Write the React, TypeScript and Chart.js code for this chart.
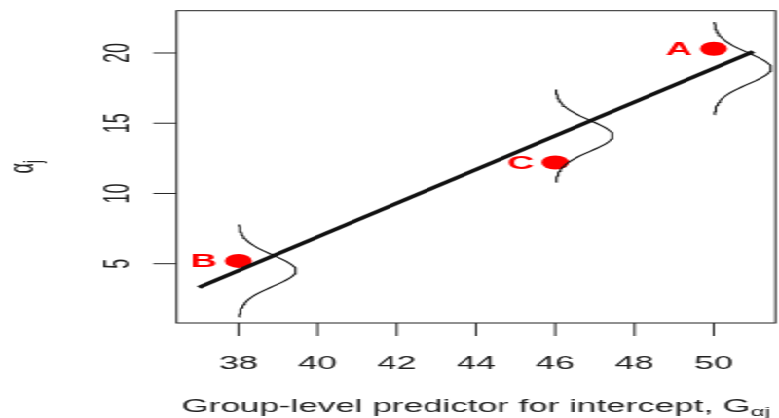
import React, { useEffect, useRef } from 'react';
import { Chart, registerables } from 'chart.js';
Chart.register(...registerables);

// ---- data ----
const xTicks = [38, 40, 42, 44, 46, 48, 50];
const yTicks = [5, 10, 15, 20];
const pointLabels = ['A', 'B', 'C'];
const pointX = [50, 38, 46];
const pointY = [20.3, 5.2, 12.2];
const lineX = [37, 51];
const lineY = [3.3, 20.1];
const densityX = [38, 46, 50];
const densityMean = [4.5, 14.1, 18.9];
const densitySd = [1.1, 1.1, 1.1];
const densityPeak = [1.45, 1.45, 1.45];
const xRange = [36.44, 51.56];
const yRange = [0.78, 23.01];
const xTitle = 'Group-level predictor for intercept, G';
const xTitleSub = '\u03B1j';
const yTitle = '\u03B1';
const yTitleSub = 'j';

const W = 400;
const H = 418;
const STRETCH = 779 / W;
const FONT = '"Liberation Sans", Arial, Helvetica, sans-serif';
const INK = '#222';

function densityCurve(i: number) {
  const pts: { x: number; y: number }[] = [];
  for (let k = 0; k <= 60; k++) {
    const z = -3 + k * 0.1;
    pts.push({
      x: densityX[i] + densityPeak[i] * Math.exp(-0.5 * z * z),
      y: densityMean[i] + z * densitySd[i],
    });
  }
  return pts;
}

const rPlot = {
  id: 'rPlot',
  afterDraw(chart: any) {
    const { ctx, chartArea: a, scales } = chart;
    const x = scales.x;
    const y = scales.y;
    ctx.save();
    // box
    ctx.strokeStyle = INK;
    ctx.lineWidth = 1;
    ctx.strokeRect(a.left, a.top, a.right - a.left, a.bottom - a.top);
    // ticks
    ctx.beginPath();
    xTicks.forEach((v) => {
      const p = x.getPixelForValue(v);
      ctx.moveTo(p, a.bottom);
      ctx.lineTo(p, a.bottom + 13);
    });
    yTicks.forEach((v) => {
      const p = y.getPixelForValue(v);
      ctx.moveTo(a.left, p);
      ctx.lineTo(a.left - 12, p);
    });
    ctx.stroke();

    ctx.fillStyle = INK;
    ctx.font = `18px ${FONT}`;
    ctx.textAlign = 'center';
    ctx.textBaseline = 'alphabetic';
    xTicks.forEach((v) => {
      ctx.fillText(String(v), x.getPixelForValue(v), a.bottom + 45.7);
    });
    yTicks.forEach((v) => {
      ctx.save();
      ctx.translate(a.left - 24.8, y.getPixelForValue(v));
      ctx.rotate(-Math.PI / 2);
      ctx.fillText(String(v), 0, 0);
      ctx.restore();
    });

    // x title with subscript
    ctx.textAlign = 'left';
    ctx.font = `18px ${FONT}`;
    const wMain = ctx.measureText(xTitle).width;
    ctx.font = `13px ${FONT}`;
    const wSub = ctx.measureText(xTitleSub).width;
    const cx = (a.left + a.right) / 2;
    const startX = cx - (wMain + wSub) / 2;
    const by = a.bottom + 89;
    ctx.font = `18px ${FONT}`;
    ctx.fillText(xTitle, startX, by);
    ctx.font = `13px ${FONT}`;
    ctx.fillText(xTitleSub, startX + wMain, by + 4);

    // y title with subscript
    ctx.font = `18px ${FONT}`;
    const wA = ctx.measureText(yTitle).width;
    ctx.font = `13px ${FONT}`;
    const wJ = ctx.measureText(yTitleSub).width;
    ctx.save();
    ctx.translate(a.left - 73.7, (a.top + a.bottom) / 2);
    ctx.rotate(-Math.PI / 2);
    const u0 = -(wA + wJ) / 2;
    ctx.font = `18px ${FONT}`;
    ctx.fillText(yTitle, u0, 0);
    ctx.font = `13px ${FONT}`;
    ctx.fillText(yTitleSub, u0 + wA, 4);
    ctx.restore();

    // point labels
    ctx.fillStyle = '#ff0000';
    ctx.font = `bold 19px ${FONT}`;
    ctx.textAlign = 'right';
    ctx.textBaseline = 'middle';
    pointLabels.forEach((lab, i) => {
      ctx.fillText(lab, x.getPixelForValue(pointX[i]) - 11, y.getPixelForValue(pointY[i]) + 1);
    });
    ctx.restore();
  },
};

export default function App() {
  const ref = useRef<HTMLCanvasElement>(null);
  useEffect(() => {
    const canvas = ref.current;
    if (!canvas) return;
    const chart = new Chart(canvas, {
      type: 'scatter',
      data: {
        datasets: [
          {
            label: 'groups',
            data: pointX.map((v, i) => ({ x: v, y: pointY[i] })),
            backgroundColor: '#ff0000',
            borderColor: '#ff0000',
            borderWidth: 0,
            pointRadius: 7,
            pointStyle: 'circle',
            showLine: false,
            order: 3,
          },
          {
            label: 'fit',
            data: lineX.map((v, i) => ({ x: v, y: lineY[i] })),
            borderColor: '#111',
            borderWidth: 3.2,
            pointRadius: 0,
            showLine: true,
            order: 1,
          },
          ...densityX.map((_, i) => ({
            label: `density${i}`,
            data: densityCurve(i),
            borderColor: '#111',
            borderWidth: 1.1,
            pointRadius: 0,
            showLine: true,
            tension: 0,
            order: 2,
          })),
        ],
      },
      options: {
        responsive: false,
        animation: false,
        devicePixelRatio: 1,
        layout: {
          autoPadding: false,
          padding: { left: 90.7, top: 10.7, right: W - 398.2, bottom: H - 323 },
        },
        plugins: { legend: { display: false }, tooltip: { enabled: false } },
        scales: {
          x: { type: 'linear', min: xRange[0], max: xRange[1], display: false },
          y: { type: 'linear', min: yRange[0], max: yRange[1], display: false },
        },
      },
      plugins: [rPlot],
    });
    return () => chart.destroy();
  }, []);
  return (
    <div
      style={{
        position: 'absolute',
        left: 0,
        top: 0,
        width: W,
        height: H,
        background: '#fff',
        transform: `scaleX(${STRETCH})`,
        transformOrigin: '0 0',
      }}
    >
      <canvas ref={ref} width={W} height={H} style={{ display: 'block' }} />
    </div>
  );
}
